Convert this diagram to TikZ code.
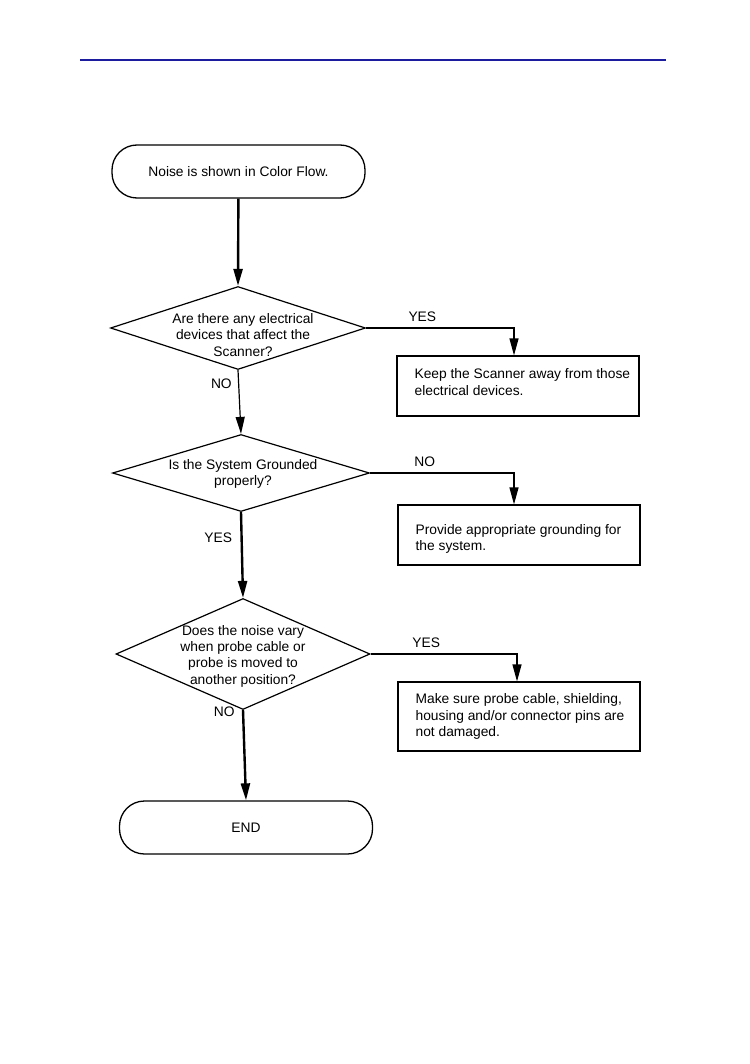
\documentclass[tikz,border=0pt]{standalone}
\usepackage{fontspec}
\setmainfont{Liberation Sans}
\usetikzlibrary{positioning,shapes.geometric,arrows.meta}
\definecolor{rulec}{HTML}{1C1C9E}

\tikzset{
  term/.style={draw, line width=1.3pt, rounded corners=25pt,
    minimum width=253pt, minimum height=53pt, inner sep=0pt},
  decis/.style={draw, diamond, line width=1.2pt, inner sep=0pt},
  dtext/.style={align=center, inner sep=0pt},
  actbox/.style={draw, line width=1.2pt, minimum width=242pt, minimum height=60pt, inner sep=0pt},
  atext/.style={align=left, inner sep=0pt},
  flow/.style={line width=2.4pt, -{Triangle[length=17pt,width=9pt]}},
  flowthin/.style={line width=1.2pt, -{Triangle[length=17pt,width=9pt]}},
}

\begin{document}
\begin{tikzpicture}[x=1pt, y=-1pt, font=\fontsize{13.8}{16.3}\selectfont]
  \useasboundingbox (0,0) rectangle (749,1064);
  % page rule
  \draw[rulec, line width=1.2pt] (80,60) -- (666,60);

  % start and end
  \node[term] (start) at (238.5,171.5) {Noise is shown in Color Flow.};
  \node[term] (stop) at (246,827.5) {END};

  % decisions
  \node[decis, minimum width=255pt, minimum height=83pt] (d1) at (238,328) {};
  \node[dtext] (d1t) at (243,335) {Are there any electrical\\devices that affect the\\Scanner?};
  \node[decis, minimum width=257pt, minimum height=77pt] (d2) at (241,473) {};
  \node[dtext] (d2t) at (243,474) {Is the System Grounded\\properly?};
  \node[decis, minimum width=254pt, minimum height=111pt] (d3) at (243,654) {};
  \node[dtext] (d3t) at (243,656) {Does the noise vary\\when probe cable or\\probe is moved to\\another position?};

  % actions
  \node[actbox] (b1) at (518,386) {};
  \node[atext, right=18pt of b1.west, yshift=4pt] (b1t) {Keep the Scanner away from those\\electrical devices.};
  \node[actbox] (b2) at (519,535) {};
  \node[atext, right=18pt of b2.west, yshift=-4pt] (b2t) {Provide appropriate grounding for\\the system.};
  \node[actbox, minimum height=69pt] (b3) at (519,716.5) {};
  \node[atext, right=18pt of b3.west] (b3t) {Make sure probe cable, shielding,\\housing and/or connector pins are\\not damaged.};

  % main flow
  \draw[flow] (start) -- (d1.north);
  \draw[flowthin] (d1.south) -- node[pos=0.22, left=3pt] {NO} (d2.north);
  \draw[flow] (d2.south) -- node[pos=0.3, left=5pt] {YES} (d3.north);
  \draw[flow] (d3.south) -- node[pos=0.02, left=4pt] {NO} (stop.north);

  % side branches
  \draw[flowthin] (d1.east) -| node[pos=0.19, above=2pt] {YES} (b1.north -| 514,0);
  \draw[flowthin] (d2.east) -| node[pos=0.19, above=2pt] {NO} (b2.north -| 514,0);
  \draw[flowthin] (d3.east) -| node[pos=0.19, above=2pt] {YES} (b3.north -| 517,0);
\end{tikzpicture}
\end{document}
